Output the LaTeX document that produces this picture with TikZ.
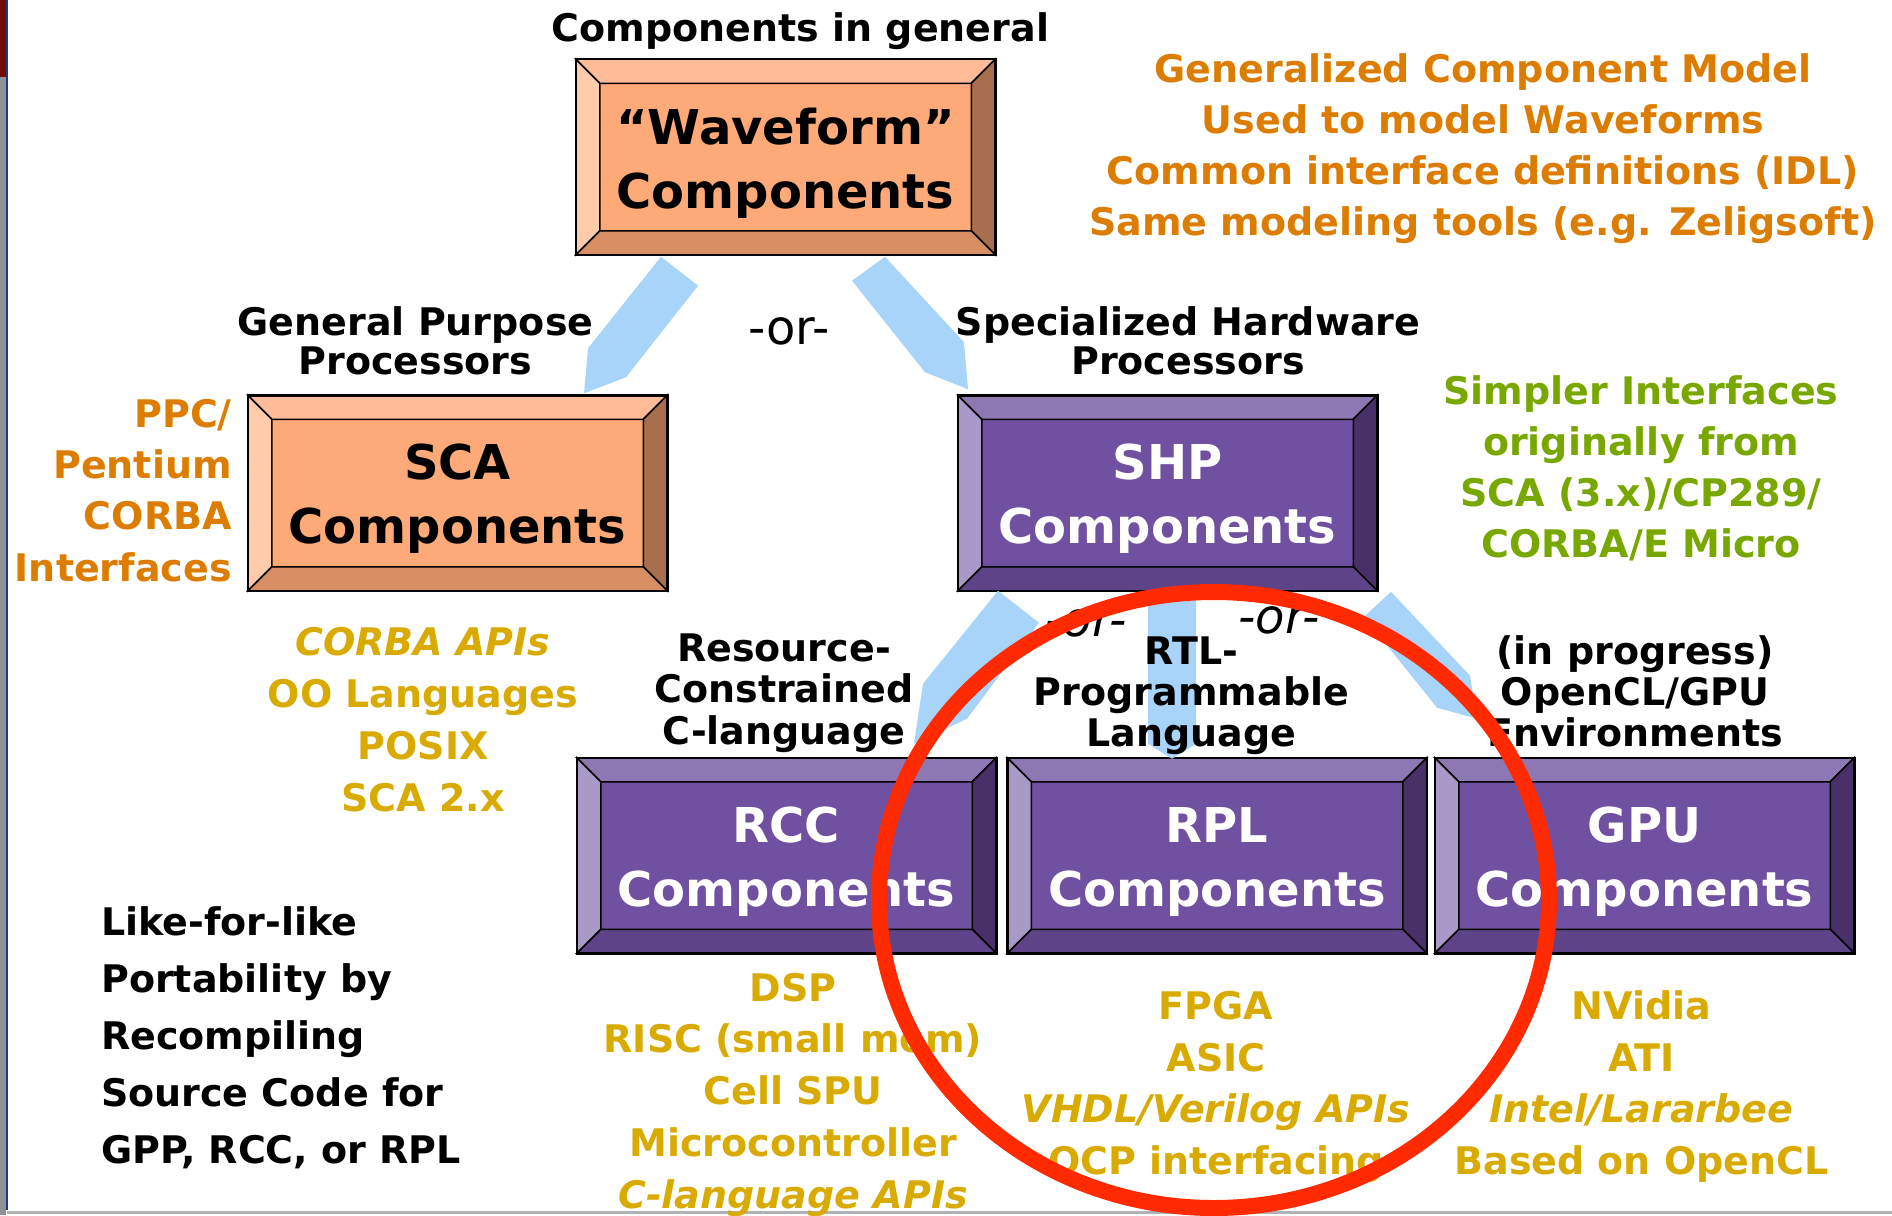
\documentclass[tikz,border=0pt]{standalone}
\usepackage{fontspec}
\setmainfont{DejaVu Sans}
\definecolor{orTop}{HTML}{FFBC96}
\definecolor{orLeft}{HTML}{FFCBAA}
\definecolor{orMid}{HTML}{FDAA78}
\definecolor{orRight}{HTML}{A86E4E}
\definecolor{orBot}{HTML}{D68E62}
\definecolor{orTxt}{HTML}{000000}
\definecolor{puTop}{HTML}{8E78B4}
\definecolor{puLeft}{HTML}{A899C8}
\definecolor{puMid}{HTML}{7050A0}
\definecolor{puRight}{HTML}{4A3068}
\definecolor{puBot}{HTML}{5E4388}
\definecolor{puTxt}{HTML}{FFFFFF}
\definecolor{linkblue}{HTML}{A8D4FA}
\definecolor{noteorange}{HTML}{DC7C00}
\definecolor{notegold}{HTML}{D9AA00}
\definecolor{notegreen}{HTML}{78A800}
\definecolor{ringred}{HTML}{FF2A00}
\definecolor{edgegray}{HTML}{8E9196}
\definecolor{edgered}{HTML}{730C00}
\definecolor{edgeblue}{HTML}{1F3C78}
\begin{document}
\begin{tikzpicture}[x=1pt,y=-1pt]
	\tikzstyle{comp}=[rectangle,draw=black,line width=2.5pt,minimum width=417pt,minimum height=193pt,inner sep=0pt]
	\tikzstyle{bevel}=[draw=black,line width=1.5pt,line join=miter]
	\tikzstyle{compname}=[font=\fontsize{48}{64}\selectfont\bfseries,align=center,inner sep=0pt]
	\tikzstyle{head}=[font=\fontsize{38}{40}\selectfont\bfseries,align=center,inner sep=0pt,anchor=base]
	\tikzstyle{note}=[font=\fontsize{38}{51}\selectfont\bfseries,align=center,inner sep=0pt,anchor=base]
	\tikzstyle{orword}=[font=\fontsize{48}{48}\selectfont,inner sep=0pt,anchor=base]
	\tikzstyle{link}=[fill=linkblue]
	\useasboundingbox (0,0) rectangle (1892,1215);
	% slide edge
	\fill[edgegray] (0,0) rectangle (6,1215);
	\fill[edgered] (0,0) rectangle (6,77);
	\draw[edgeblue,line width=2pt] (7,0) -- (7,1210);
	\draw[edgegray!70,line width=3pt] (7,1212) -- (1892,1212);
	% component boxes
	\foreach \b/\x/\y/\sty/\txt in {wave/785.5/157/or/{“Waveform”\\Components},
		sca/457.5/493/or/{SCA\\Components}, shp/1167.5/493/pu/{SHP\\Components},
		rcc/786.5/855.5/pu/{RCC\\Components}, rpl/1217/855.5/pu/{RPL\\Components},
		gpu/1644.5/855.5/pu/{GPU\\Components}} {
		\node[comp,fill=\sty Mid] (\b) at (\x,\y) {};
		\path[bevel,fill=\sty Top] (\b.north west) -- (\b.north east) -- ([shift={(-24,24)}]\b.north east) -- ([shift={(24,24)}]\b.north west) -- cycle;
		\path[bevel,fill=\sty Right] (\b.north east) -- (\b.south east) -- ([shift={(-24,-24)}]\b.south east) -- ([shift={(-24,24)}]\b.north east) -- cycle;
		\path[bevel,fill=\sty Bot] (\b.south east) -- (\b.south west) -- ([shift={(24,-24)}]\b.south west) -- ([shift={(-24,-24)}]\b.south east) -- cycle;
		\path[bevel,fill=\sty Left] (\b.south west) -- (\b.north west) -- ([shift={(24,24)}]\b.north west) -- ([shift={(24,-24)}]\b.south west) -- cycle;
		\draw[line width=2.5pt] (\b.north west) rectangle (\b.south east);
		\node[compname,text=\sty Txt] (\b-t) at ([yshift=-6pt]\b.center) {\txt};
	}
	% links
	\fill[link] ([shift={(-124.5,2)}]wave.south) -- ([shift={(-87.5,31)}]wave.south) -- ([shift={(168.5,-18)}]sca.north) -- ([shift={(126.5,-2)}]sca.north) -- ([shift={(130.5,-47)}]sca.north) -- cycle;
	\fill[link] ([shift={(99.5,2)}]wave.south) -- ([shift={(-203.5,-53)}]shp.north) -- ([shift={(-199.5,-6)}]shp.north) -- ([shift={(-242.5,-23)}]shp.north) -- ([shift={(66.5,26)}]wave.south) -- cycle;
	\fill[link] ([shift={(-169.5,0)}]shp.south) -- ([shift={(-128.5,32)}]shp.south) -- ([shift={(180.5,-39)}]rcc.north) -- ([shift={(127.5,-14)}]rcc.north) -- ([shift={(136.5,-74)}]rcc.north) -- cycle;
	\fill[link] ([shift={(-19.5,3)}]shp.south) -- ([shift={(28.5,3)}]shp.south) -- ([shift={(-21,-14)}]rpl.north) -- ([shift={(-45,1)}]rpl.north) -- ([shift={(-69,-14)}]rpl.north) -- cycle;
	\fill[link] ([shift={(223.5,1)}]shp.south) -- ([shift={(-174.5,-82)}]gpu.north) -- ([shift={(-167.5,-39)}]gpu.north) -- ([shift={(-207.5,-50)}]gpu.north) -- ([shift={(196.5,26)}]shp.south) -- cycle;
	% headings
	\node[head] (general) at (800.5,41.5) {Components in general};
	\node[head,font=\fontsize{38}{39}\selectfont\bfseries] (gpp) at (415.5,374) {General Purpose\\Processors};
	\node[head,font=\fontsize{38}{39}\selectfont\bfseries] (shw) at (1188,374) {Specialized Hardware\\Processors};
	\node[head,font=\fontsize{38}{41.5}\selectfont\bfseries] (rccl) at (784,744) {Resource-\\Constrained\\C-language};
	\node[head,font=\fontsize{38}{41}\selectfont\bfseries] (rpll) at (1191.5,746) {RTL-\\Programmable\\Language};
	\node[head,font=\fontsize{38}{41}\selectfont\bfseries] (gpul) at (1635,746) {(in progress)\\OpenCL/GPU\\Environments};
	\node[orword] (or1) at (789,344) {-or-};
	\node[orword,font=\fontsize{48}{48}\selectfont\itshape] (or2) at (1086,636) {-or-};
	\node[orword,font=\fontsize{48}{48}\selectfont\itshape] (or3) at (1279,633) {-or-};
	% notes
	\node[note,text=noteorange,font=\fontsize{38}{50.7}\selectfont\bfseries] (model) at (1483,235) {Generalized Component Model\\Used to model Waveforms\\Common interface definitions (IDL)\\Same modeling tools (e.g. Zeligsoft)};
	\node[note,text=noteorange,align=right,anchor=base east,font=\fontsize{38}{51.3}\selectfont\bfseries] (ppc) at (232,581) {PPC/\\Pentium\\CORBA\\Interfaces};
	\node[note,text=notegreen,font=\fontsize{38}{50.8}\selectfont\bfseries] (simpler) at (1641,557) {Simpler Interfaces\\originally from\\SCA (3.x)/CP289/\\CORBA/E Micro};
	\node[note,text=notegold,font=\fontsize{38}{51.7}\selectfont\bfseries] (gppnote) at (423,811) {{\itshape CORBA APIs}\\OO Languages\\POSIX\\SCA 2.x};
	\node[note,text=notegold,font=\fontsize{38}{51.75}\selectfont\bfseries] (rccnote) at (793,1208) {DSP\\RISC (small mem)\\Cell SPU\\Microcontroller\\{\itshape C-language APIs}};
	\node[note,text=notegold,font=\fontsize{38}{51.5}\selectfont\bfseries] (rplnote) at (1216,1174) {FPGA\\ASIC\\{\itshape VHDL/Verilog APIs}\\OCP interfacing};
	\node[note,text=notegold,font=\fontsize{38}{51.5}\selectfont\bfseries] (gpunote) at (1641.5,1174) {NVidia\\ATI\\{\itshape Intel/Lararbee}\\Based on OpenCL};
	\node[note,align=left,anchor=base west,font=\fontsize{38}{56.8}\selectfont\bfseries] (port) at (101,1163) {Like-for-like\\Portability by\\Recompiling\\Source Code for\\GPP, RCC, or RPL};
	% ring round RPL
	\draw[ringred,line width=16pt] (1214,900) ellipse [x radius=335pt,y radius=308pt];
\end{tikzpicture}
\end{document}
